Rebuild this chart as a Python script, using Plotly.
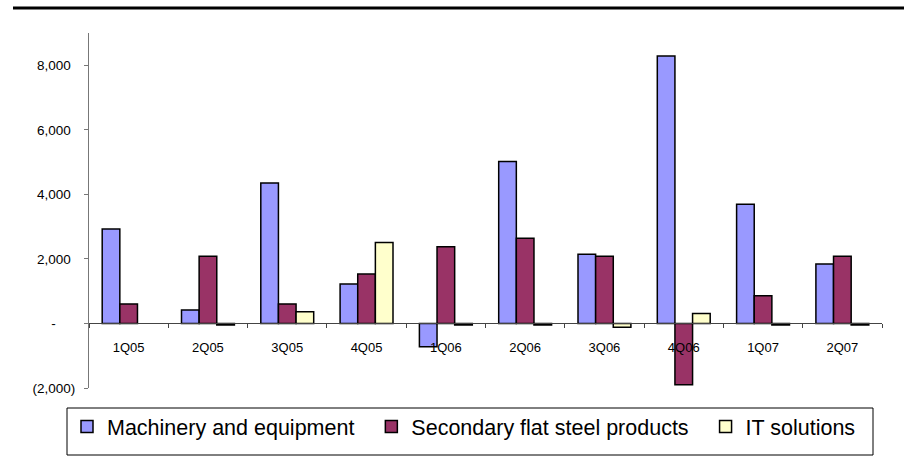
import plotly.graph_objects as go

categories = ["1Q05", "2Q05", "3Q05", "4Q05", "1Q06", "2Q06", "3Q06", "4Q06", "1Q07", "2Q07"]
machinery = [2930, 420, 4350, 1220, -720, 5020, 2145, 8290, 3690, 1840]
steel = [605, 2080, 605, 1530, 2380, 2640, 2080, -1900, 860, 2080]
it_solutions = [None, -50, 360, 2510, -50, -50, -120, 310, -50, -50]

series_names = ["Machinery and equipment\u00a0\u00a0", "Secondary flat steel products\u00a0\u00a0", "IT solutions"]
series_colors = ["#9999FF", "#993366", "#FFFFCC"]

tick_vals = [-2000, 0, 2000, 4000, 6000, 8000]
HID = "<span style='color:rgba(0,0,0,0)'>%s</span>"
tick_text = ["(2,000)", "-" + HID % "00)", "2,000" + HID % ")", "4,000" + HID % ")",
             "6,000" + HID % ")", "8,000" + HID % ")"]

FONT = "Liberation Sans, Arial, sans-serif"

fig = go.Figure()
for name, vals, col in zip(series_names, [machinery, steel, it_solutions], series_colors):
    fig.add_trace(go.Bar(
        x=categories, y=vals, name=name,
        marker=dict(color=col, line=dict(color="#000000", width=1.5)),
    ))

W, H = 904, 462
ml, mr, mt, mb = 89, 22, 33, 74
plot_w = W - ml - mr
plot_h = H - mt - mb

def px_x(p):
    return (p - ml) / plot_w

def px_y(p):
    return (H - mb - p) / plot_h

ymin, ymax = -2000, 9000

fig.update_layout(
    width=W, height=H,
    margin=dict(l=ml, r=mr, t=mt, b=mb, pad=0),
    paper_bgcolor="white", plot_bgcolor="white",
    barmode="group", bargap=0.333, bargroupgap=0,
    font=dict(family=FONT, size=13.5, color="#000000"),
    showlegend=True,
    legend=dict(
        orientation="h", x=px_x(67), y=px_y(406), xanchor="left", yanchor="top",
        font=dict(family=FONT, size=21.5, color="#000000"),
        bgcolor="rgba(0,0,0,0)", borderwidth=0,
        traceorder="normal",
    ),
    xaxis=dict(
        anchor="free", position=(0 - ymin) / (ymax - ymin),
        showline=True, linecolor="#444444", linewidth=1,
        ticks="outside", ticklen=4, tickcolor="#444444", tickson="boundaries",
        showgrid=False, zeroline=False,
        tickfont=dict(family=FONT, size=13, color="#000000"),
        ticklabelstandoff=12,
    ),
    yaxis=dict(
        range=[ymin, ymax],
        tickmode="array", tickvals=tick_vals, ticktext=tick_text,
        showline=True, linecolor="#777777", linewidth=1,
        ticks="outside", ticklen=4, tickcolor="#777777",
        showgrid=False, zeroline=False,
        tickfont=dict(family=FONT, size=13.5, color="#000000"),
        ticklabelstandoff=6,
    ),
    shapes=[
        dict(type="line", xref="paper", yref="paper",
             x0=px_x(13), x1=px_x(904), y0=px_y(8), y1=px_y(8),
             line=dict(color="#000000", width=3)),
        dict(type="rect", xref="paper", yref="paper",
             x0=px_x(67), x1=px_x(873), y0=px_y(408), y1=px_y(455),
             line=dict(color="#000000", width=1), fillcolor="rgba(0,0,0,0)"),
    ],
)

fig.write_html("out.html")
